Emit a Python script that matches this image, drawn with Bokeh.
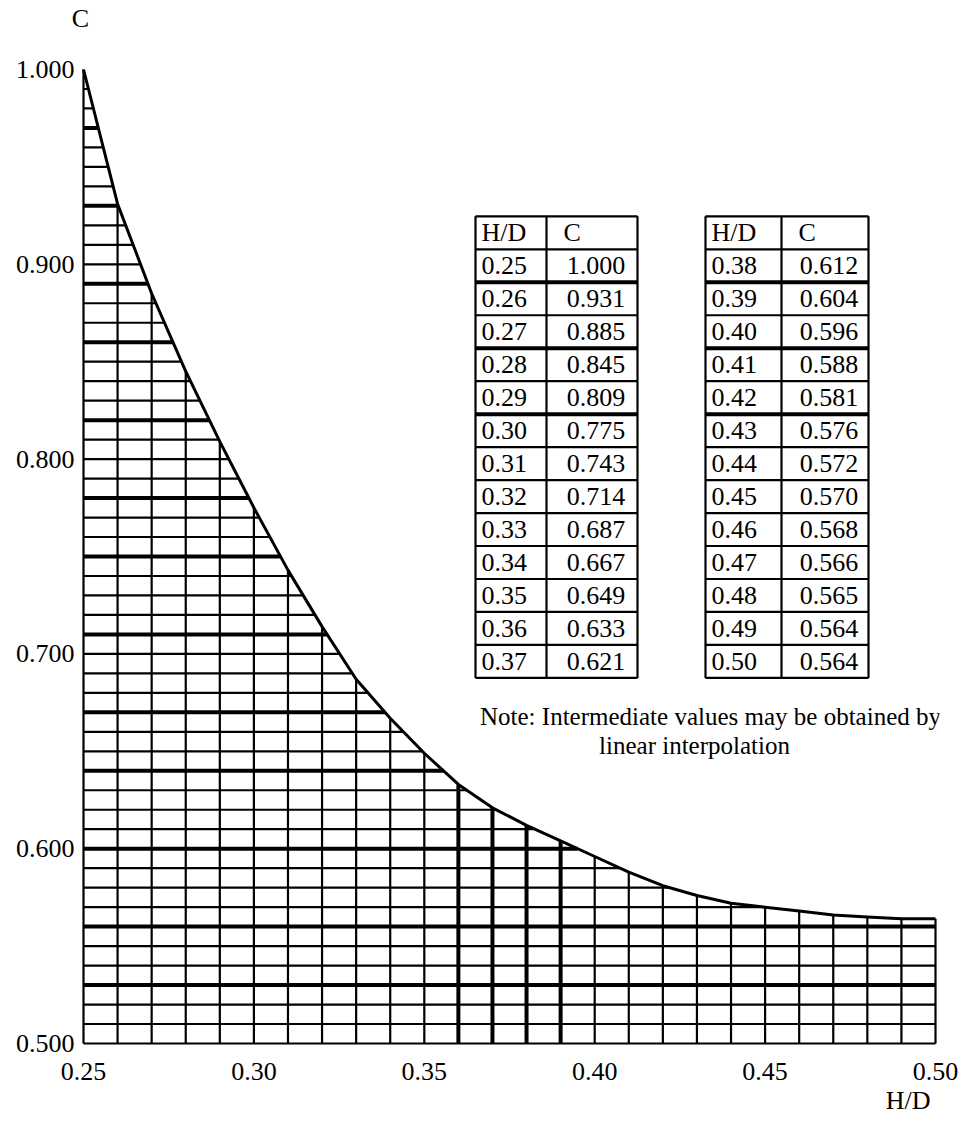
import numpy as np
from bokeh.plotting import figure
from bokeh.models import Range1d, FixedTicker, NumeralTickFormatter, Title, LinearAxis
from bokeh.embed import file_html
from bokeh.resources import INLINE
from bokeh.core.properties import value

# ---------------- data ----------------
hd = [0.25, 0.26, 0.27, 0.28, 0.29, 0.30, 0.31, 0.32, 0.33, 0.34, 0.35, 0.36, 0.37,
      0.38, 0.39, 0.40, 0.41, 0.42, 0.43, 0.44, 0.45, 0.46, 0.47, 0.48, 0.49, 0.50]
c_val = [1.000, 0.931, 0.885, 0.845, 0.809, 0.775, 0.743, 0.714, 0.687, 0.667, 0.649, 0.633, 0.621,
         0.612, 0.604, 0.596, 0.588, 0.581, 0.576, 0.572, 0.570, 0.568, 0.566, 0.565, 0.564, 0.564]
table1_hd = ["0.25", "0.26", "0.27", "0.28", "0.29", "0.30", "0.31", "0.32", "0.33", "0.34", "0.35", "0.36", "0.37"]
table1_c = ["1.000", "0.931", "0.885", "0.845", "0.809", "0.775", "0.743", "0.714", "0.687", "0.667", "0.649", "0.633", "0.621"]
table2_hd = ["0.38", "0.39", "0.40", "0.41", "0.42", "0.43", "0.44", "0.45", "0.46", "0.47", "0.48", "0.49", "0.50"]
table2_c = ["0.612", "0.604", "0.596", "0.588", "0.581", "0.576", "0.572", "0.570", "0.568", "0.566", "0.565", "0.564", "0.564"]
table_header = ["H/D", "C"]
x_ticks = [0.25, 0.30, 0.35, 0.40, 0.45, 0.50]
y_ticks = [0.5, 0.6, 0.7, 0.8, 0.9, 1.0]
grid_step = 0.01
thick_rows = [0.97, 0.93, 0.89, 0.86, 0.82, 0.78, 0.75, 0.71, 0.67, 0.64, 0.60, 0.56, 0.53]
thick_cols = [0.36, 0.37, 0.38, 0.39]
note_lines = ["Note: Intermediate values may be obtained by", "linear interpolation"]
x_title = "H/D"
y_title = "C"

# ---------------- layout helpers (page pixels -> data) ----------------
X0, X1 = 0.25, 0.50
Y0, Y1 = 0.50, 1.00
PXX = 3408.0   # px per x unit
PXY = 1950.0   # px per y unit
PAD = 4

def dx(px):
    return X0 + (px - 83) / PXX

def dy(py):
    return Y1 - (py - 68) / PXY

FONT = "Liberation Serif"

p = figure(width=961, height=1118, output_backend="svg", toolbar_location=None,
           x_range=Range1d(X0 - PAD / PXX, X1 + PAD / PXX),
           y_range=Range1d(Y0 - PAD / PXY, Y1 + PAD / PXY),
           min_border_left=79, min_border_right=22, min_border_top=64, min_border_bottom=71)
p.outline_line_color = None
p.xgrid.visible = False
p.ygrid.visible = False
p.background_fill_color = "white"
p.border_fill_color = "white"
p.title.visible = False

bottom_axis = p.xaxis[0]
left_axis = p.yaxis[0]

# y-axis title "C" placed above the top of the y axis, via an extra top axis
c_pos = dx(80)
top_axis = LinearAxis(ticker=FixedTicker(ticks=[c_pos]),
                      major_label_overrides={c_pos: y_title})
p.add_layout(top_axis, "above")

for ax in (bottom_axis, left_axis, top_axis):
    ax.axis_line_color = None
    ax.major_tick_line_color = None
    ax.minor_tick_line_color = None
    ax.major_tick_out = 0
    ax.major_tick_in = 0
    ax.major_label_text_font = FONT
    ax.major_label_text_font_size = "26px"
    ax.major_label_text_color = "black"
bottom_axis.ticker = FixedTicker(ticks=x_ticks)
left_axis.ticker = FixedTicker(ticks=y_ticks)
bottom_axis.formatter = NumeralTickFormatter(format="0.00")
left_axis.formatter = NumeralTickFormatter(format="0.000")
bottom_axis.major_label_standoff = 15
left_axis.major_label_standoff = 5
top_axis.major_label_standoff = 33

# x-axis title below right
p.add_layout(Title(text=x_title, align="right", offset=9, standoff=3, text_font=FONT,
                   text_font_size="26px", text_font_style="normal", text_color="black"), "below")

hd_a = np.array(hd)
c_a = np.array(c_val)

# ---------------- grid below the curve ----------------
xs = np.round(np.arange(X0, X1 + 1e-9, grid_step), 2)
ys = np.round(np.arange(Y0, Y1 + 1e-9, grid_step), 2)
c_top = np.interp(xs, hd_a, c_a)
x_end = np.array([X1 if y <= c_a.min() else np.interp(y, c_a[::-1], hd_a[::-1]) for y in ys])

thin_v = [i for i, x in enumerate(xs) if not any(abs(x - t) < 1e-6 for t in thick_cols)]
thick_v = [i for i, x in enumerate(xs) if any(abs(x - t) < 1e-6 for t in thick_cols)]
thin_h = [i for i, y in enumerate(ys) if not any(abs(y - t) < 1e-6 for t in thick_rows)]
thick_h = [i for i, y in enumerate(ys) if any(abs(y - t) < 1e-6 for t in thick_rows)]

p.segment(x0=xs[thin_v], y0=[Y0] * len(thin_v), x1=xs[thin_v], y1=c_top[thin_v],
          line_color="black", line_width=2.2)
p.segment(x0=[X0] * len(thin_h), y0=ys[thin_h], x1=x_end[thin_h], y1=ys[thin_h],
          line_color="black", line_width=2.2)
p.segment(x0=xs[thick_v], y0=[Y0] * len(thick_v), x1=xs[thick_v], y1=c_top[thick_v],
          line_color="black", line_width=4)
p.segment(x0=[X0] * len(thick_h), y0=ys[thick_h], x1=x_end[thick_h], y1=ys[thick_h],
          line_color="black", line_width=4)

# curve
p.line(hd, c_val, line_color="black", line_width=3)

# ---------------- tables ----------------
ROW_H = 33
TOP = 215

def draw_table(left, div, right, hd_list, c_list):
    n = len(hd_list) + 1
    bottom = TOP + n * ROW_H
    p.segment(x0=[dx(left), dx(right), dx(div)], y0=[dy(TOP)] * 3,
              x1=[dx(left), dx(right), dx(div)], y1=[dy(bottom)] * 3,
              line_color="black", line_width=2.2)
    thin_y, thick_y = [], []
    for k in range(n + 1):
        yy = dy(TOP + k * ROW_H)
        if k in (2, 4, 6):
            thick_y.append(yy)
        else:
            thin_y.append(yy)
    p.segment(x0=[dx(left)] * len(thin_y), y0=thin_y, x1=[dx(right)] * len(thin_y), y1=thin_y,
              line_color="black", line_width=2.2)
    p.segment(x0=[dx(left)] * len(thick_y), y0=thick_y, x1=[dx(right)] * len(thick_y), y1=thick_y,
              line_color="black", line_width=4)
    rows_y = [dy(TOP + (k + 0.5) * ROW_H) for k in range(n)]
    p.text(x=[dx(left + 6)] * n, y=rows_y, text=[table_header[0]] + list(hd_list),
           text_font=value(FONT), text_font_size="26px", text_align="left",
           text_baseline="middle", text_color="black")
    p.text(x=[dx(div + 17)], y=rows_y[:1], text=[table_header[1]],
           text_font=value(FONT), text_font_size="26px", text_align="left",
           text_baseline="middle", text_color="black")
    p.text(x=[dx((div + right) / 2 + 4)] * (n - 1), y=rows_y[1:], text=list(c_list),
           text_font=value(FONT), text_font_size="26px", text_align="center",
           text_baseline="middle", text_color="black")

draw_table(475, 546, 637, table1_hd, table1_c)
draw_table(705, 781, 868, table2_hd, table2_c)

# note
p.text(x=[dx(710), dx(694)], y=[dy(716), dy(745)], text=note_lines,
       text_font=value(FONT), text_font_size="25px", text_align="center",
       text_baseline="middle", text_color="black")

open("out.html", "w").write(file_html(p, INLINE))
